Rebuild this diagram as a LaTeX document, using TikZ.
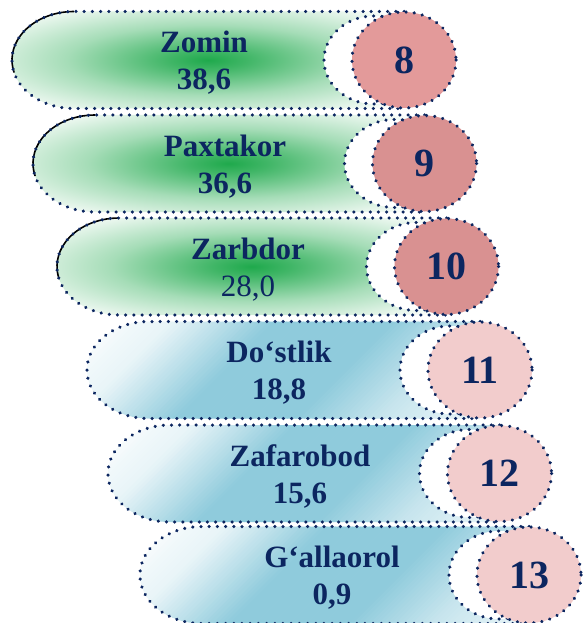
\documentclass[tikz,border=0pt]{standalone}
\usepackage{fontspec}
\setmainfont{Liberation Serif}
\usetikzlibrary{calc,decorations.markings}
\definecolor{navy}{HTML}{0C2660}
\definecolor{leafgreen}{HTML}{1FA94C}
\definecolor{seablue}{HTML}{8FCBDC}
\definecolor{rosedark}{HTML}{E39A9A}
\definecolor{rosemid}{HTML}{D99191}
\definecolor{roselight}{HTML}{F2CCCC}
\pgfdeclareradialshading{greenglow}{\pgfpoint{0bp}{0bp}}{color(0bp)=(leafgreen); color(5bp)=(leafgreen!85!white); color(18bp)=(leafgreen!40!white); color(34bp)=(white); color(50bp)=(white)}
\tikzset{
  dots/.style={postaction={decorate, decoration={markings,
      mark=between positions 0 and 1 step 8.2pt with {\fill[navy] (0,0) circle[radius=1.75pt];}}}},
  distname/.style={text=navy, font=\fontsize{31}{37}\selectfont\bfseries, align=center},
  numtext/.style={text=navy, font=\fontsize{40}{40}\selectfont\bfseries},
  shadowline/.style={black, line width=1.6pt}
}
% rim of a pill: dotted outline, white cut-out, number disc
\def\pillrim[#1](#2,#3,#4){%
  \path[dots] (#4,{#3-48.5}) -- ({#2+62},{#3-48.5}) arc (270:90:62 and 48.5) -- (#4,{#3+48.5});
  \path[dots, fill=white] ({#4-30},#3) ellipse (50 and 44);
  \path[dots, fill=#1] (#4,#3) ellipse (52 and 48);
}
\def\greenpill[#1](#2,#3,#4){%
  \shade[shading=greenglow] ({#2+62},{#3-48.5}) arc (270:90:62 and 48.5) -- (#4,{#3+48.5}) -- (#4,{#3-48.5}) -- cycle;
  \draw[shadowline] ({#2+62},{#3-48.5}) arc (270:165:62 and 48.5);
  \pillrim[#1](#2,#3,#4)}
% blue sheen: diagonal strips, white top-left, light again bottom-right
\def\bluepill[#1](#2,#3,#4){%
  \begin{scope}
    \clip ({#2+62},{#3-48.5}) arc (270:90:62 and 48.5) -- (#4,{#3+48.5}) -- (#4,{#3-48.5}) -- cycle;
    \begin{scope}[transform canvas={shift={(#2,{#3-48.5})}, rotate=-45}]
      \foreach \s in {0,3,...,348}{
        \pgfmathtruncatemacro\p{\s<60 ? \s/60*22 : (\s<130 ? 22+(\s-60)/70*78 : (\s<215 ? 100 : (\s<275 ? 100-(\s-215)/60*50 : 50-(\s-275)/75*35)))}
        \fill[seablue!\p!white] (\s,-280) rectangle ({\s+3.6},70);
      }
    \end{scope}
  \end{scope}
  \pillrim[#1](#2,#3,#4)}

\begin{document}
\begin{tikzpicture}[x=1pt, y=-1pt]
			%%%%% START %%%%%
			\useasboundingbox (0,0) rectangle (582,623);
			
			\greenpill[rosedark](12,60,404)
			\node[distname] (zomin) at (204,63) {Zomin\\38,6};
			\node[numtext] (n8) at (404,60) {8};
			
			\greenpill[rosemid](33,163.5,424.5)
			\node[distname] (paxtakor) at (225,166.5) {Paxtakor\\36,6};
			\node[numtext] (n9) at (424.5,163.5) {9};
			
			\greenpill[rosemid](57,266.5,446.5)
			\node[distname] (zarbdor) at (248,269.5) {Zarbdor\\{\mdseries 28,0}};
			\node[numtext] (n10) at (446.5,266.5) {10};
			
			\bluepill[roselight](87,370,480)
			\node[distname] (dostlik) at (279,373) {Do‘stlik\\18,8};
			\node[numtext] (n11) at (480,370) {11};
			
			\bluepill[roselight](108,473.5,499.5)
			\node[distname] (zafarobod) at (300,476.5) {Zafarobod\\15,6};
			\node[numtext] (n12) at (499.5,473.5) {12};
			
			\bluepill[roselight](140,575,529)
			\node[distname] (gallaorol) at (332,578) {G‘allaorol\\0,9};
			\node[numtext] (n13) at (529,575) {13};
			
			%%%%% END %%%%%
\end{tikzpicture}
\end{document}
